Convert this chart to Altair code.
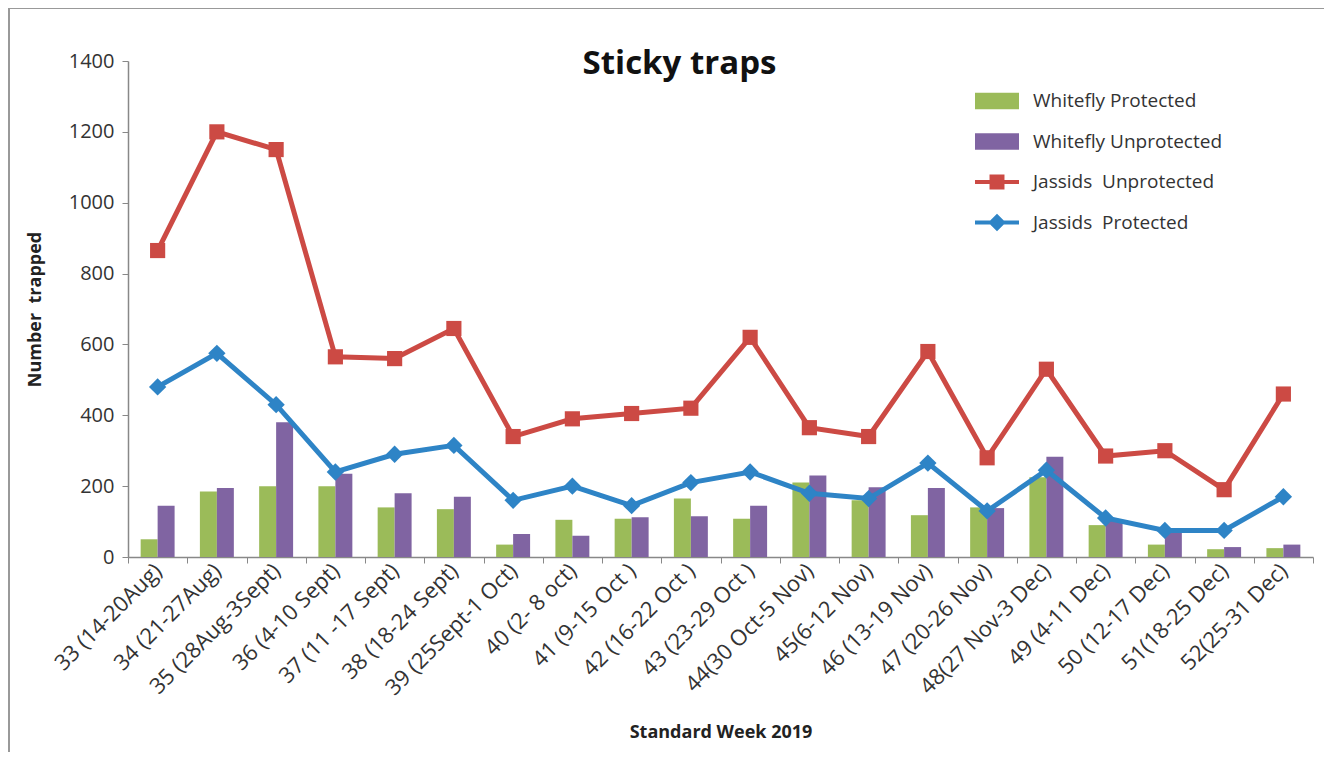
import altair as alt
import pandas as pd

weeks = ["33 (14-20Aug)", "34 (21-27Aug)", "35 (28Aug-3Sept)", "36 (4-10 Sept)",
         "37 (11 -17 Sept)", "38 (18-24 Sept)", "39 (25Sept-1 Oct)", "40 (2- 8 oct)",
         "41 (9-15 Oct )", "42 (16-22 Oct )", "43 (23-29 Oct )", "44(30 Oct-5 Nov)",
         "45(6-12 Nov)", "46 (13-19 Nov)", "47 (20-26 Nov)", "48(27 Nov-3 Dec)",
         "49 (4-11 Dec)", "50 (12-17 Dec)", "51(18-25 Dec)", "52(25-31 Dec)"]

whitefly_protected = [50, 185, 200, 200, 140, 135, 35, 105, 108, 165,
                      108, 210, 160, 118, 140, 225, 90, 35, 22, 25]
whitefly_unprotected = [145, 195, 380, 235, 180, 170, 65, 60, 112, 115,
                        145, 230, 197, 195, 138, 283, 105, 75, 28, 35]
jassids_unprotected = [865, 1200, 1150, 565, 560, 645, 340, 390, 405, 420,
                       620, 365, 340, 580, 280, 530, 285, 300, 190, 460]
jassids_protected = [480, 575, 430, 240, 290, 315, 160, 200, 145, 210,
                     240, 180, 165, 265, 130, 245, 110, 75, 75, 170]

WP, WU = "Whitefly Protected", "Whitefly Unprotected"
JU, JP = "Jassids\u00a0 Unprotected", "Jassids\u00a0 Protected"
SERIES = [WP, WU, JU, JP]

GREEN, PURPLE, RED, BLUE = "#9BBB59", "#8064A2", "#CC4A44", "#2E84C6"
COLORS = [GREEN, PURPLE, RED, BLUE]

bars_df = pd.DataFrame(
    [{"week": w, "series": WP, "value": v} for w, v in zip(weeks, whitefly_protected)]
    + [{"week": w, "series": WU, "value": v} for w, v in zip(weeks, whitefly_unprotected)]
)
lines_df = pd.DataFrame(
    [{"week": w, "series": JU, "value": v} for w, v in zip(weeks, jassids_unprotected)]
    + [{"week": w, "series": JP, "value": v} for w, v in zip(weeks, jassids_protected)]
)
# helper rows for the legend symbols only (placed below the axis and clipped away)
legend_df = pd.DataFrame({"series": SERIES, "week": [weeks[0]] * 4,
                          "value": [-1000] * 4})

W, H = 1185, 496

xscale = alt.Scale(domain=weeks, paddingInner=0, paddingOuter=0)
yscale = alt.Scale(domain=[0, 1400])
color_scale = alt.Scale(domain=SERIES, range=COLORS)

PATH_BAR = "M-1,-0.38H1V0.38H-1Z"
PATH_SQ = "M-1,-0.09H1V0.09H-1Z M-0.34,-0.34H0.34V0.34H-0.34Z"
PATH_DI = "M-1,-0.09H1V0.09H-1Z M0,-0.4L0.4,0L0,0.4L-0.4,0Z"
shape_scale = alt.Scale(domain=SERIES, range=[PATH_BAR, PATH_BAR, PATH_SQ, PATH_DI])

legend = alt.Legend(title=None, orient="none", legendX=847, legendY=18,
                    symbolSize=1936, symbolStrokeWidth=0, labelFontSize=19,
                    labelColor="#333333", labelOffset=14, labelLimit=400, rowPadding=8.5)

x_enc = alt.X("week:N", sort=weeks, scale=xscale, title="Standard Week 2019",
              axis=alt.Axis(labelAngle=-45, labelAlign="right", labelBaseline="middle",
                            labelFontSize=22, labelColor="#333333", labelPadding=4,
                            labelLimit=300, labelOverlap=False,
                            tickBand="extent", tickSize=6, tickColor="#888888",
                            domainColor="#888888", domainWidth=1.5,
                            titleFontSize=18, titleFontWeight="bold", titleColor="#222222",
                            titleX=W / 2, titleY=180, titleBaseline="alphabetic"))
y_enc = alt.Y("value:Q", scale=yscale, title="Number\u00a0 trapped",
              axis=alt.Axis(values=[0, 200, 400, 600, 800, 1000, 1200, 1400], grid=False,
                            format="d",
                            labelFontSize=20, labelColor="#333333", labelPadding=8,
                            tickSize=6, tickColor="#888888", domainColor="#888888",
                            domainWidth=1.5, titleFontSize=18, titleFontWeight="bold",
                            titleColor="#222222", titleX=-93, titleY=H / 2,
                            titleBaseline="middle", titleAlign="center"))

bars = alt.Chart(bars_df).mark_bar().encode(
    x=x_enc,
    xOffset=alt.XOffset("series:N", scale=alt.Scale(domain=[WP, WU], paddingOuter=0.745,
                                                   paddingInner=0)),
    y=y_enc,
    color=alt.Color("series:N", scale=color_scale, legend=legend),
)

lines = alt.Chart(lines_df).mark_line(strokeWidth=5).encode(
    x=alt.X("week:N", sort=weeks, scale=xscale),
    y=alt.Y("value:Q", scale=yscale),
    stroke=alt.Stroke("series:N", scale=alt.Scale(domain=[JU, JP], range=[RED, BLUE]),
                      legend=None),
)

red_pts = alt.Chart(lines_df).transform_filter(alt.datum.series == JU).mark_point(
    filled=True, shape="square", size=230, color=RED, opacity=1).encode(
    x=alt.X("week:N", sort=weeks, scale=xscale), y=alt.Y("value:Q", scale=yscale))
blue_pts = alt.Chart(lines_df).transform_filter(alt.datum.series == JP).mark_point(
    filled=True, shape="diamond", size=300, color=BLUE, opacity=1).encode(
    x=alt.X("week:N", sort=weeks, scale=xscale), y=alt.Y("value:Q", scale=yscale))

legend_layer = alt.Chart(legend_df).mark_point(filled=True, opacity=1, clip=True).encode(
    x=alt.X("week:N", sort=weeks, scale=xscale),
    y=alt.Y("value:Q", scale=yscale),
    color=alt.Color("series:N", scale=color_scale, legend=legend),
    shape=alt.Shape("series:N", scale=shape_scale, legend=legend),
)

frame_left = alt.Chart(legend_df).mark_rule(color="#999999", strokeWidth=1.5).encode(
    x=alt.value(-119), y=alt.value(-53), y2=alt.value(760))
frame_top = alt.Chart(legend_df).mark_rule(color="#999999", strokeWidth=1.5).encode(
    x=alt.value(-119), x2=alt.value(1196), y=alt.value(-53))

chart = alt.layer(bars, lines, red_pts, blue_pts, legend_layer, frame_left, frame_top).properties(
    width=W, height=H,
    title=alt.Title("Sticky traps", fontSize=33, fontWeight="bold", color="#111111",
                    anchor="middle", frame="group", dx=-41, dy=100, offset=0,
                    baseline="alphabetic"),
    autosize=alt.AutoSizeParams(type="none"),
    padding={"left": 120, "top": 53, "right": 12, "bottom": 195},
).configure(font="Open Sans").configure_view(stroke=None)

chart.save("out.html", embed_options={"renderer": "svg", "actions": False})
